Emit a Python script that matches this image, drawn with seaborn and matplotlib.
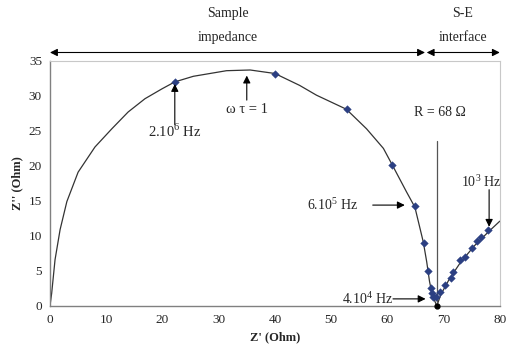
import matplotlib
matplotlib.use("Agg")
import matplotlib.pyplot as plt
import seaborn as sn
import pandas as pd

sn.set_style("white")
plt.rcParams["font.family"] = ["Liberation Serif", "DejaVu Serif"]
plt.rcParams["mathtext.fontset"] = "custom"
plt.rcParams["mathtext.rm"] = "Liberation Serif"

# puntos medidos (rombos azules)
z_real = [22.2, 40.0, 52.9, 60.8, 64.9, 66.5, 67.3, 67.7, 68.0, 68.1,
          68.7, 69.3, 70.2, 71.4, 71.7, 72.9, 73.8, 75.0, 75.9, 76.7, 77.9]
z_imag = [32.0, 33.1, 28.1, 20.1, 14.2, 9.0, 5.0, 2.5, 1.8, 1.3,
          1.3, 2.0, 3.0, 3.95, 4.9, 6.5, 7.0, 8.2, 9.2, 9.9, 10.9]

# curva ajustada
fit_real = [0, 0.3, 0.9, 1.8, 3.0, 5.0, 8.0, 11.0, 13.9, 16.9, 19.9, 22.2,
            25.5, 31.4, 35.6, 40.0, 44.4, 47.4, 52.7, 56.3, 59.3, 60.9,
            63.4, 64.9, 66.4, 67.0, 67.5, 68.0, 68.8,
            69.5, 71.0, 73.0, 75.5, 78.0, 80.0]
fit_imag = [0, 1.8, 6.6, 10.9, 14.9, 19.1, 22.7, 25.3, 27.7, 29.6, 31.0, 32.0,
            32.8, 33.6, 33.7, 33.2, 31.5, 30.1, 28.1, 25.3, 22.5, 20.1,
            16.3, 14.1, 9.1, 6.3, 3.5, 1.5, 0,
            1.6, 3.8, 6.2, 8.6, 10.6, 12.1]

x_ticks = [0, 10, 20, 30, 40, 50, 60, 70, 80]
y_ticks = [0, 5, 10, 15, 20, 25, 30, 35]

df_pts = pd.DataFrame({"zr": z_real, "zi": z_imag})
df_fit = pd.DataFrame({"zr": fit_real, "zi": fit_imag})

fig = plt.figure(figsize=(5.1, 3.52), dpi=100)
ax = fig.add_axes([0.098, 0.131, 0.882, 0.696])

sn.lineplot(data=df_fit, x="zr", y="zi", sort=False, color="#333333",
            lw=0.9, ax=ax)
sn.scatterplot(data=df_pts, x="zr", y="zi", marker="D", s=15,
               color="#2b3f82", edgecolor="#2b3f82", linewidth=0.3,
               zorder=3, ax=ax)
ax.plot([68.8], [0.05], "o", color="black", ms=3.5, zorder=4, clip_on=False)

ax.set_xlim(0, 80)
ax.set_ylim(0, 35)
ax.set_xticks(x_ticks)
ax.set_yticks(y_ticks)
ax.tick_params(axis="both", labelsize=9.5, length=3.5, width=0.8,
               color="#808080", direction="inout", pad=4)
ax.set_xlabel("Z' (Ohm)", fontsize=9, fontweight="bold", labelpad=4)
ax.set_ylabel("Z'' (Ohm)", fontsize=9, fontweight="bold", labelpad=4)

for s in ["left", "bottom"]:
    ax.spines[s].set_color("#808080")
    ax.spines[s].set_linewidth(1.0)
for s in ["top", "right"]:
    ax.spines[s].set_color("#c8c8c8")
    ax.spines[s].set_linewidth(0.8)

arr = dict(arrowstyle="-|>", color="black", lw=0.8, mutation_scale=11,
           shrinkA=0, shrinkB=0)
dbl = dict(arrowstyle="<|-|>", color="black", lw=0.8, mutation_scale=11,
           shrinkA=0, shrinkB=0)

# flechas superiores
ax.annotate("", xy=(66.7, 36.2), xytext=(0, 36.2), arrowprops=dbl,
            annotation_clip=False)
ax.annotate("", xy=(80, 36.2), xytext=(67.0, 36.2), arrowprops=dbl,
            annotation_clip=False)
ax.text(31.6, 41.7, "Sample", ha="center", va="center", fontsize=10)
ax.text(31.6, 38.4, "impedance", ha="center", va="center", fontsize=10)
ax.text(73.4, 41.7, "S-E", ha="center", va="center", fontsize=10)
ax.text(73.4, 38.4, "interface", ha="center", va="center", fontsize=10)

# anotaciones de frecuencia
ax.annotate("", xy=(22.2, 31.7), xytext=(22.2, 25.9), arrowprops=arr)
ax.text(22.2, 24.9, r"2.10$^{\mathrm{6}}$ Hz", ha="center", va="center",
        fontsize=10.5)
ax.annotate("", xy=(35.0, 32.9), xytext=(35.0, 29.4), arrowprops=arr)
ax.text(35.0, 28.0, "ω τ = 1", ha="center", va="center", fontsize=10.5)

ax.plot([68.8, 68.8], [0.4, 23.6], color="#555555", lw=0.9)
ax.text(69.3, 27.6, "R = 68 Ω", ha="center", va="center", fontsize=10)

ax.text(54.8, 14.4, r"6.10$^{\mathrm{5}}$ Hz", ha="right", va="center",
        fontsize=10)
ax.annotate("", xy=(63.1, 14.4), xytext=(57.4, 14.4), arrowprops=arr)

ax.text(61.0, 1.0, r"4.10$^{\mathrm{4}}$ Hz", ha="right", va="center",
        fontsize=10)
ax.annotate("", xy=(66.8, 1.0), xytext=(61.0, 1.0), arrowprops=arr)

ax.text(76.7, 17.8, r"10$^{\mathrm{3}}$ Hz", ha="center", va="center",
        fontsize=10)
ax.annotate("", xy=(78.1, 11.3), xytext=(78.1, 16.6), arrowprops=arr)

fig.savefig("out.png", dpi=100)
